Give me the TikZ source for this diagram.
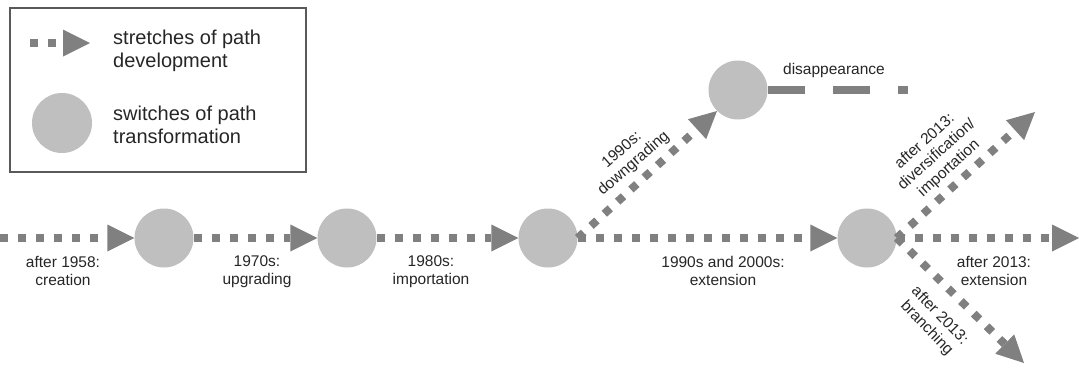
\documentclass[tikz,border=0pt]{standalone}
\usepackage{fontspec}
\setmainfont{Liberation Sans}
\usetikzlibrary{arrows.meta}
\definecolor{arrgray}{HTML}{808080}
\definecolor{circgray}{HTML}{BFBFBF}
\definecolor{boxgray}{HTML}{595959}
\begin{document}
\begin{tikzpicture}[x=1pt,y=-1pt,
  sw/.style={circle,fill=circgray,minimum size=59pt,inner sep=0pt},
  stretch/.style={draw=arrgray,line width=8pt,dash pattern=on 8pt off 10pt,
    -{Triangle[length=27pt,width=27pt,line width=0pt]}},
  vanish/.style={draw=arrgray,line width=8pt,dash pattern=on 37pt off 28pt},
  lbl/.style={font=\fontsize{15.5}{18}\selectfont,align=center,text=black!85,inner sep=0pt},
  legtxt/.style={font=\fontsize{20}{23}\selectfont,align=left,anchor=west,text=black!85,inner sep=0pt},
  legbox/.style={draw=boxgray,line width=1.5pt}]
\useasboundingbox (0,0) rectangle (1079,367);
% legend
\draw[legbox] (10,8) rectangle (306,172);
\coordinate (la) at (30,43);
\coordinate (lb) at (90,43);
\draw[stretch] (la) -- (lb);
\node[legtxt] (lt1) at (113,51) {stretches of path\\development};
\node[sw,minimum size=60pt] (lc) at (62,123) {};
\node[legtxt] (lt2) at (113,125) {switches of path\\transformation};
% switches
\node[sw] (c1) at (164,238) {};
\node[sw] (c2) at (347,238) {};
\node[sw] (c3) at (548,238) {};
\node[sw] (c4) at (738,90) {};
\node[sw] (c5) at (867,238) {};
\coordinate (s0) at (0,238);
\coordinate (e1) at (1079,238);
\coordinate (e2) at (1035,112);
\coordinate (e3) at (1024,363);
\coordinate (e4) at (908,90);
% stretches
\draw[stretch] (s0) -- (c1);
\draw[stretch] (c1) -- (c2);
\draw[stretch] (c2) -- (c3);
\draw[stretch] (c3) -- (c5);
\draw[stretch] (c3.east) -- (c4.225);
\draw[stretch] (c5.east) -- (e1);
\draw[stretch] (c5.east) -- (e2);
\draw[stretch] (c5.east) -- (e3);
\draw[vanish] (c4) -- (e4);
% labels
\node[lbl] (l1) at (63,271) {after 1958:\\creation};
\node[lbl] (l2) at (257,272) {1970s:\\upgrading};
\node[lbl] (l3) at (431,272) {1980s:\\importation};
\node[lbl] (l4) at (723,271) {1990s and 2000s:\\extension};
\node[lbl] (l5) at (994,271) {after 2013:\\extension};
\node[lbl] (l6) at (834,70) {disappearance};
\node[lbl,rotate=41] (l7) at (628,157) {1990s:\\downgrading};
\node[lbl,rotate=42] (l8) at (937,155) {after 2013:\\diversification/\\importation};
\node[lbl,rotate=-46] (l9) at (933,322) {after 2013:\\branching};
\end{tikzpicture}
\end{document}
